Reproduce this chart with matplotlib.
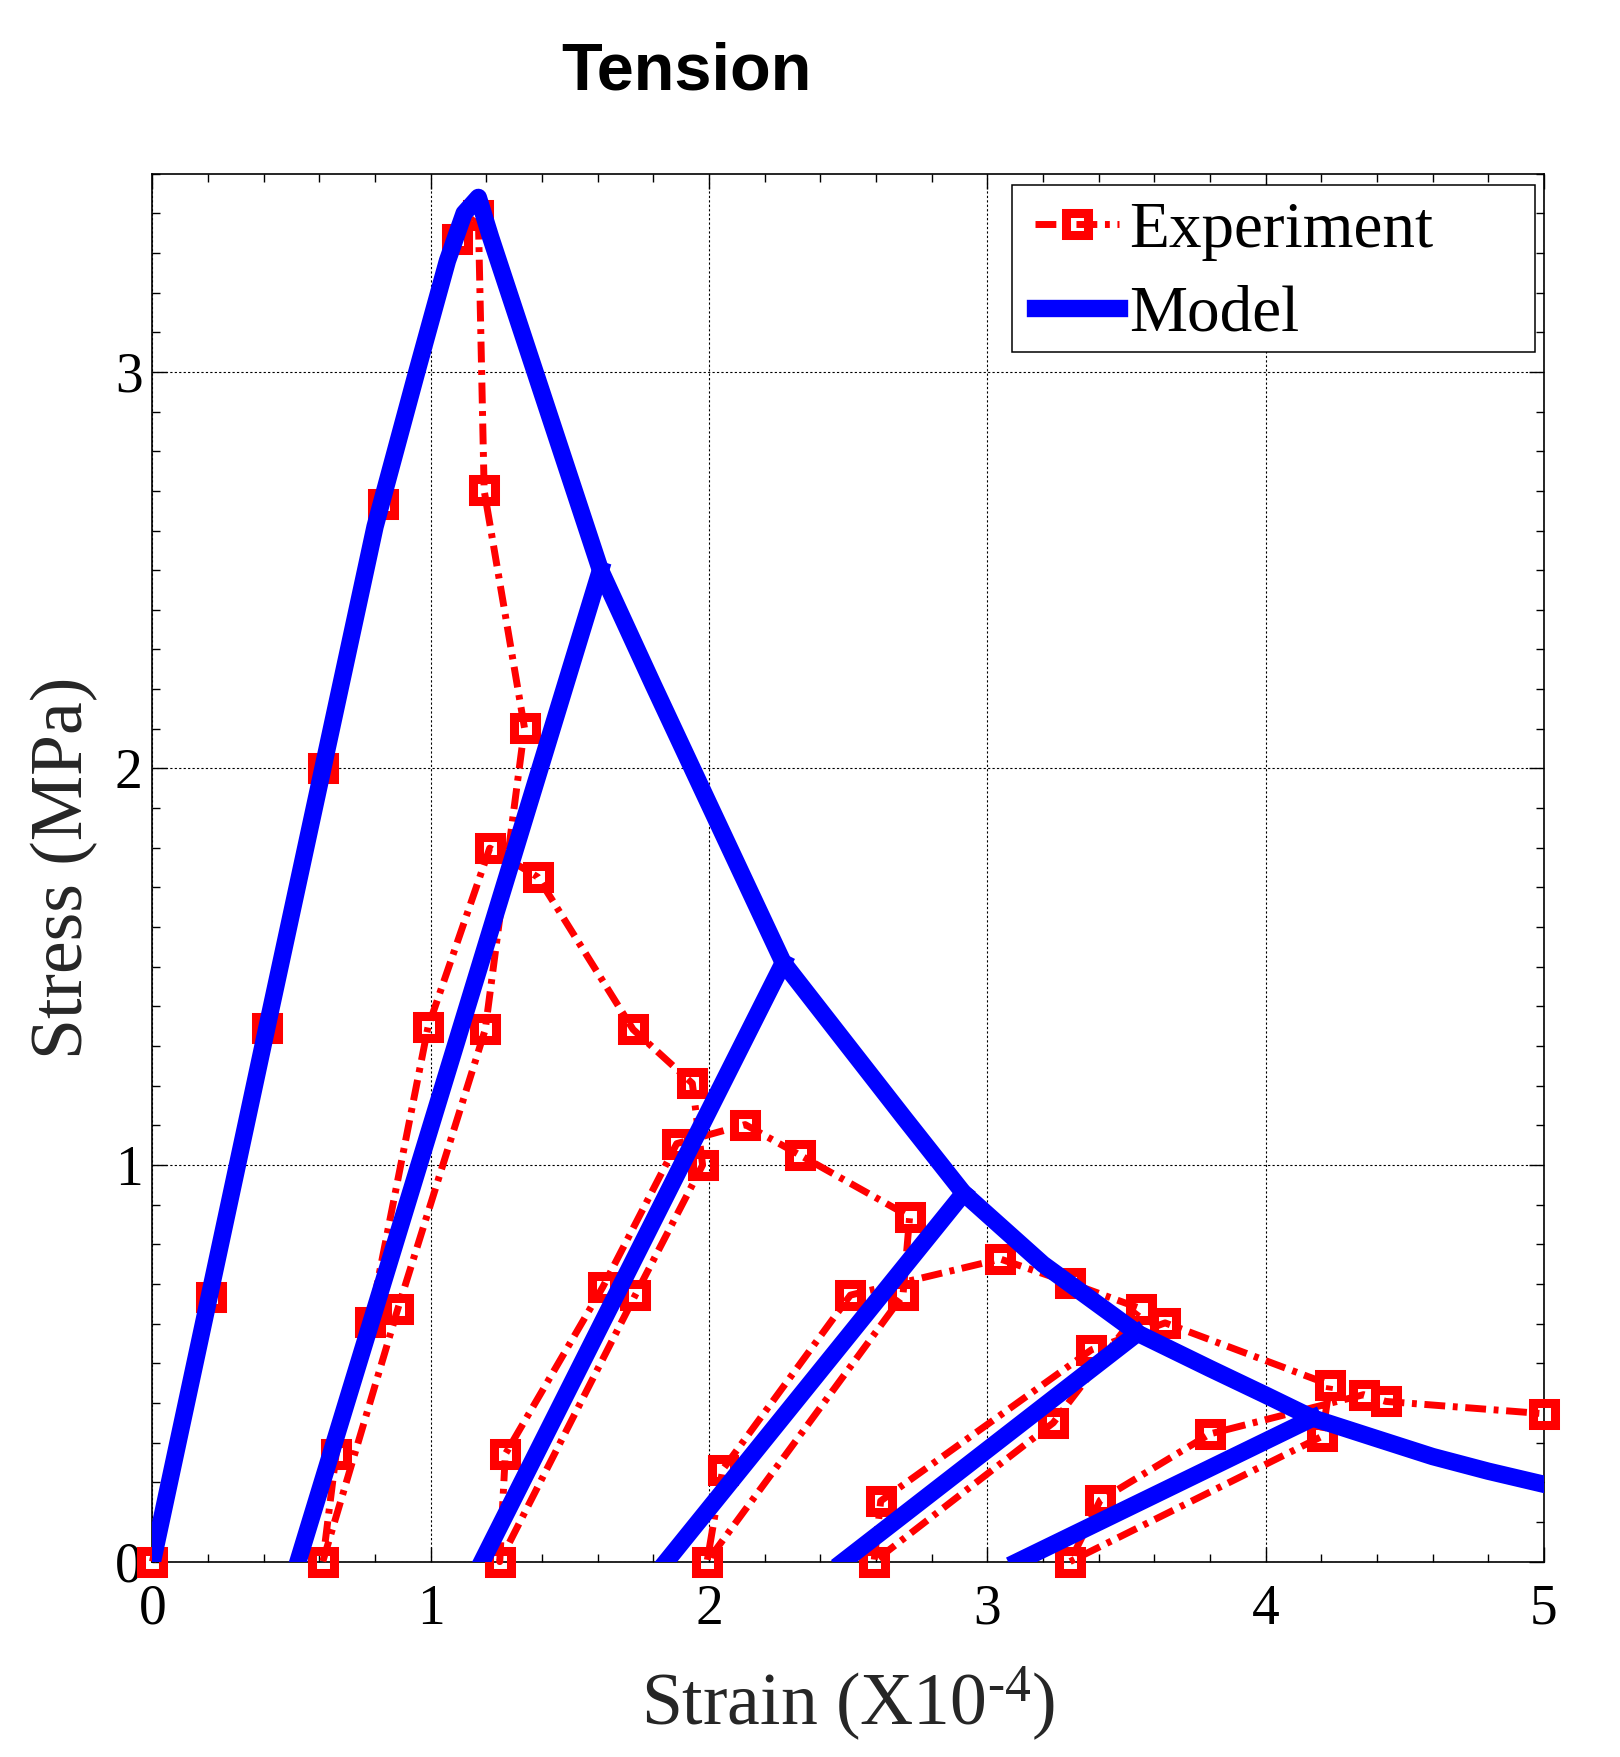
import matplotlib
matplotlib.use("Agg")  # no display
import matplotlib.pyplot as plt
from matplotlib.patches import Rectangle
from matplotlib.ticker import MultipleLocator

# ---------------------------------------------------------------------------
# Experiment (strain x1e-4, stress MPa), points in test order
# ---------------------------------------------------------------------------
exp_strain = [0.000, 0.209, 0.411, 0.612, 0.829, 1.095, 1.171, 1.192, 1.337,
              1.196, 0.882, 0.612, 0.660, 0.781, 0.990, 1.212, 1.385, 1.727,
              1.940, 1.977, 1.735, 1.248, 1.268, 1.618, 1.884, 2.130, 2.327,
              2.721, 2.697, 1.993, 2.049, 2.508, 3.047, 3.297, 3.551, 3.237,
              2.593, 2.617, 3.374, 3.639, 4.231, 4.203, 3.297, 3.406, 3.800,
              4.352, 4.432, 5.000]
exp_stress = [0.000, 0.667, 1.345, 2.000, 2.667, 3.336, 3.395, 2.701, 2.102,
              1.342, 0.638, 0.000, 0.271, 0.605, 1.347, 1.799, 1.726, 1.342,
              1.206, 1.000, 0.672, 0.000, 0.271, 0.692, 1.054, 1.102, 1.025,
              0.870, 0.672, 0.000, 0.232, 0.672, 0.763, 0.703, 0.638, 0.350,
              0.000, 0.153, 0.534, 0.602, 0.446, 0.316, 0.000, 0.155, 0.322,
              0.421, 0.404, 0.373]

# ---------------------------------------------------------------------------
# Model: loading + softening envelope
# ---------------------------------------------------------------------------
env_strain = [0.00, 0.40, 0.80, 0.95, 1.06, 1.12, 1.171, 1.215, 1.61,
              1.80, 2.00, 2.267, 2.50, 2.70, 2.915, 3.20, 3.54, 3.80, 4.00,
              4.17, 4.40, 4.60, 4.80, 5.00]
env_stress = [0.00, 1.31, 2.61, 3.00, 3.28, 3.40, 3.44, 3.34, 2.50,
              2.21, 1.91, 1.51, 1.30, 1.12, 0.929, 0.75, 0.576, 0.487, 0.42,
              0.362, 0.31, 0.265, 0.228, 0.195]

# Model: unloading branches (from the envelope down to zero stress)
unload_strain = [[1.61, 0.523], [2.267, 1.184], [2.915, 1.846],
                 [3.54, 2.482], [4.17, 3.109]]
unload_stress = [[2.50, 0.0], [1.51, 0.0], [0.929, 0.0],
                 [0.576, 0.0], [0.362, 0.0]]

x_ticks = [0, 1, 2, 3, 4, 5]
y_ticks = [0, 1, 2, 3]

plt.rcParams["font.family"] = ["Liberation Serif", "DejaVu Serif"]
plt.rcParams["mathtext.fontset"] = "custom"
plt.rcParams["mathtext.rm"] = "Liberation Serif"
plt.rcParams["mathtext.it"] = "Liberation Serif:italic"

fig = plt.figure(figsize=(16.2, 17.57), dpi=100)
ax = fig.add_axes([0.0941, 0.1112, 0.8589, 0.7900])

ax.plot(exp_strain, exp_stress, color="red", linewidth=5,
        dashes=(3, 1.1, 0.7, 1.1), marker="s", markersize=16.5,
        markeredgewidth=6.5, markerfacecolor="none", markeredgecolor="red",
        label="Experiment", zorder=3, clip_on=False)

ax.plot(env_strain, env_stress, color="blue", linewidth=12.5,
        solid_joinstyle="round", label="Model", zorder=4)
for xs, ys in zip(unload_strain, unload_stress):
    ax.plot(xs, ys, color="blue", linewidth=12.5, zorder=4)

ax.set_xlim(0, 5)
ax.set_ylim(0, 3.5)
ax.set_xticks(x_ticks)
ax.set_yticks(y_ticks)
ax.xaxis.set_minor_locator(MultipleLocator(0.2))
ax.yaxis.set_minor_locator(MultipleLocator(0.1))
ax.tick_params(which="both", direction="in", top=True, right=True,
               width=1.0, color="black")
ax.tick_params(which="major", length=10.5, labelsize=40, labelcolor="black")
ax.tick_params(which="minor", length=5.5)
ax.tick_params(axis="x", pad=16)
ax.tick_params(axis="y", pad=7)
ax.grid(True, which="major", color="black", linestyle=(0, (2, 2)),
        linewidth=0.8)
for sp in ax.spines.values():
    sp.set_linewidth(1.2)
    sp.set_color("black")

ax.set_xlabel(r"Strain (X10$^{\text{-4}}$)", fontsize=53, color="#262626")
ax.xaxis.set_label_coords(0.5, -0.1177)
ax.xaxis.label.set_va("baseline")
ax.set_ylabel("Stress (MPa)", fontsize=53, color="#262626")
ax.yaxis.set_label_coords(-0.039, 0.5)

# legend box (MATLAB style: wider than its content)
ax.add_patch(Rectangle((0.6178, 0.8714), 0.3759, 0.1205, transform=ax.transAxes,
                       facecolor="white", edgecolor="black", linewidth=1.1,
                       zorder=6, clip_on=False))
leg = ax.legend(loc="upper left", bbox_to_anchor=(0.6340, 0.9800),
                borderaxespad=0, borderpad=0, fontsize=47, handlelength=1.3,
                handletextpad=0.15, labelspacing=0.37, frameon=False,
                numpoints=1)
leg.set_zorder(7)

fig.text(0.424, 1 - 89 / 1757, "Tension", ha="center", va="baseline",
         fontsize=48, fontweight="bold", family=["Liberation Sans", "DejaVu Sans"])

fig.savefig("out.png", dpi=100)
plt.close(fig)
